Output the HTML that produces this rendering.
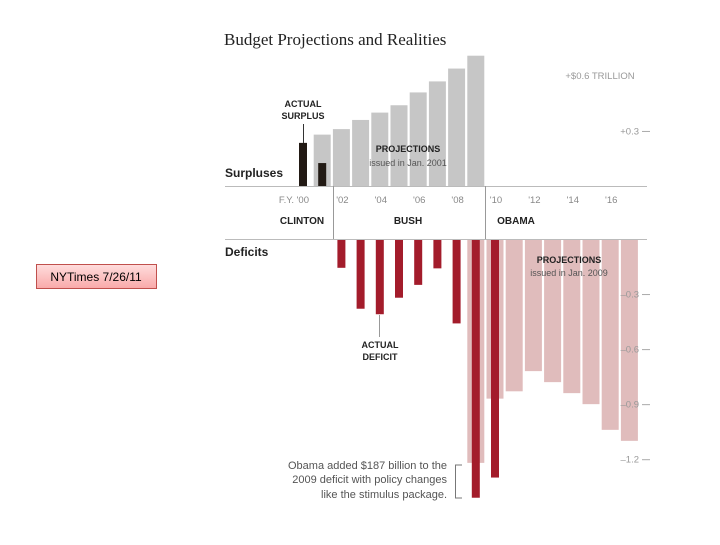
<!DOCTYPE html>
<html><head><meta charset="utf-8"><style>
body{margin:0;background:#fff;}
svg text{font-family:"Liberation Sans",sans-serif;}
</style></head><body>
<svg width="720" height="540" viewBox="0 0 720 540" xmlns="http://www.w3.org/2000/svg">
<rect x="0" y="0" width="720" height="540" fill="#fff"/>
<defs><linearGradient id="pk" x1="0" y1="0" x2="0" y2="1"><stop offset="0" stop-color="#fdd"/><stop offset="1" stop-color="#f9a9a9"/></linearGradient></defs>
<g>
<rect x="36.5" y="264.5" width="120" height="24" fill="url(#pk)" stroke="#c0504d" stroke-width="1"/>
<text x="96" y="281" text-anchor="middle" font-size="12" fill="#000">NYTimes 7/26/11</text>
</g>
<text x="224" y="45" font-family="Liberation Serif, serif" style="font-family:'Liberation Serif',serif" font-size="17" fill="#222">Budget Projections and Realities</text>
<g id="bars"></g>
<g>
<line x1="225" y1="186.5" x2="647" y2="186.5" stroke="#bbb"/>
<line x1="225" y1="239.5" x2="647" y2="239.5" stroke="#bbb"/>
<line x1="333.5" y1="186" x2="333.5" y2="239" stroke="#999"/>
<line x1="485.5" y1="186" x2="485.5" y2="239" stroke="#999"/>
</g>
<g id="yr" font-size="9.5" fill="#888"></g>
<g font-size="10" font-weight="bold" fill="#222">
<text x="302" y="224" text-anchor="middle">CLINTON</text>
<text x="408" y="224" text-anchor="middle">BUSH</text>
<text x="516" y="224" text-anchor="middle">OBAMA</text>
</g>
<text x="225" y="177" font-size="12" font-weight="bold" fill="#222">Surpluses</text>
<text x="225" y="256" font-size="12" font-weight="bold" fill="#222">Deficits</text>
<g id="ticks" font-size="9.5" fill="#999"></g>
<text x="600" y="79" text-anchor="middle" font-size="9.5" fill="#999">+$0.6 TRILLION</text>
<g font-size="9" fill="#222">
<text x="408" y="152" text-anchor="middle" font-weight="bold">PROJECTIONS</text>
<text x="408" y="166" text-anchor="middle" fill="#555">issued in Jan. 2001</text>
<text x="569" y="263" text-anchor="middle" font-weight="bold">PROJECTIONS</text>
<text x="569" y="276" text-anchor="middle" fill="#555">issued in Jan. 2009</text>
<text x="303" y="107" text-anchor="middle" font-weight="bold">ACTUAL</text>
<text x="303" y="119" text-anchor="middle" font-weight="bold">SURPLUS</text>
<line x1="303.5" y1="124" x2="303.5" y2="143" stroke="#333"/>
<text x="380" y="348" text-anchor="middle" font-weight="bold">ACTUAL</text>
<text x="380" y="360" text-anchor="middle" font-weight="bold">DEFICIT</text>
<line x1="379.5" y1="315" x2="379.5" y2="337" stroke="#999"/>
</g>
<g font-size="11" fill="#555" text-anchor="end">
<text x="447" y="469">Obama added $187 billion to the</text>
<text x="447" y="483">2009 deficit with policy changes</text>
<text x="447" y="498">like the stimulus package.</text>
<path d="M462 465 H455.5 V498 H462" fill="none" stroke="#777"/>
</g>
</svg>
<script>
const projSurplusYears=[2001,2002,2003,2004,2005,2006,2007,2008,2009];
const projSurplus=[0.28,0.31,0.36,0.40,0.44,0.51,0.57,0.64,0.71];
const actualSurplusYears=[2000,2001];
const actualSurplus=[0.235,0.125];
const projDeficitYears=[2009,2010,2011,2012,2013,2014,2015,2016,2017];
const projDeficit=[1.22,0.87,0.83,0.72,0.78,0.84,0.90,1.04,1.10];
const actualDeficitYears=[2002,2003,2004,2005,2006,2007,2008,2009,2010];
const actualDeficit=[0.157,0.38,0.41,0.32,0.25,0.16,0.46,1.41,1.30];
const yearTicks=["F.Y. '00","'02","'04","'06","'08","'10","'12","'14","'16"];
const tickValues=[0.3,-0.3,-0.6,-0.9,-1.2];
const tickLabels=["+0.3","\u20130.3","\u20130.6","\u20130.9","\u20131.2"];
const NS='http://www.w3.org/2000/svg';
const PX=183.5;
function xC(y){return 303+19.2*(y-2000);}
function yS(v){return 186-v*PX;}
function yD(v){return 239+v*PX;}
function mk(tag,at,par){const e=document.createElementNS(NS,tag);for(const k in at)e.setAttribute(k,at[k]);par.appendChild(e);return e;}
const bars=document.getElementById('bars');
projSurplusYears.forEach((yr,i)=>{const top=yS(projSurplus[i]);
const r=mk('rect',{x:xC(yr)-8.5,y:top,width:17,height:186-top,fill:'#c6c6c6'},bars);

});
actualSurplusYears.forEach((yr,i)=>{const top=yS(actualSurplus[i]);
const r=mk('rect',{x:xC(yr)-4,y:top,width:8,height:186-top,fill:'#221a14'},bars);

});
projDeficitYears.forEach((yr,i)=>{
const r=mk('rect',{x:xC(yr)-8.5,y:240,width:17,height:yD(projDeficit[i])-240,fill:'#e0bcbc'},bars);

});
actualDeficitYears.forEach((yr,i)=>{
const r=mk('rect',{x:xC(yr)-4,y:240,width:8,height:yD(actualDeficit[i])-240,fill:'#a31c2b'},bars);

});
const yrG=document.getElementById('yr');
yearTicks.forEach((t,i)=>{const yr=2000+2*i;
const e=mk('text',{x:i===0?309:xC(yr)+1,y:203,'text-anchor':i===0?'end':'middle'},yrG);e.textContent=t;

});
const tg=document.getElementById('ticks');
tickValues.forEach((v,i)=>{const y=v>0?yS(v):yD(-v);
const e=mk('text',{x:639,y:y+3.5,'text-anchor':'end'},tg);e.textContent=tickLabels[i];


const l=mk('line',{x1:642,x2:650,y1:y+0.5,y2:y+0.5,stroke:'#aaa'},tg);

});
</script>
</body></html>
